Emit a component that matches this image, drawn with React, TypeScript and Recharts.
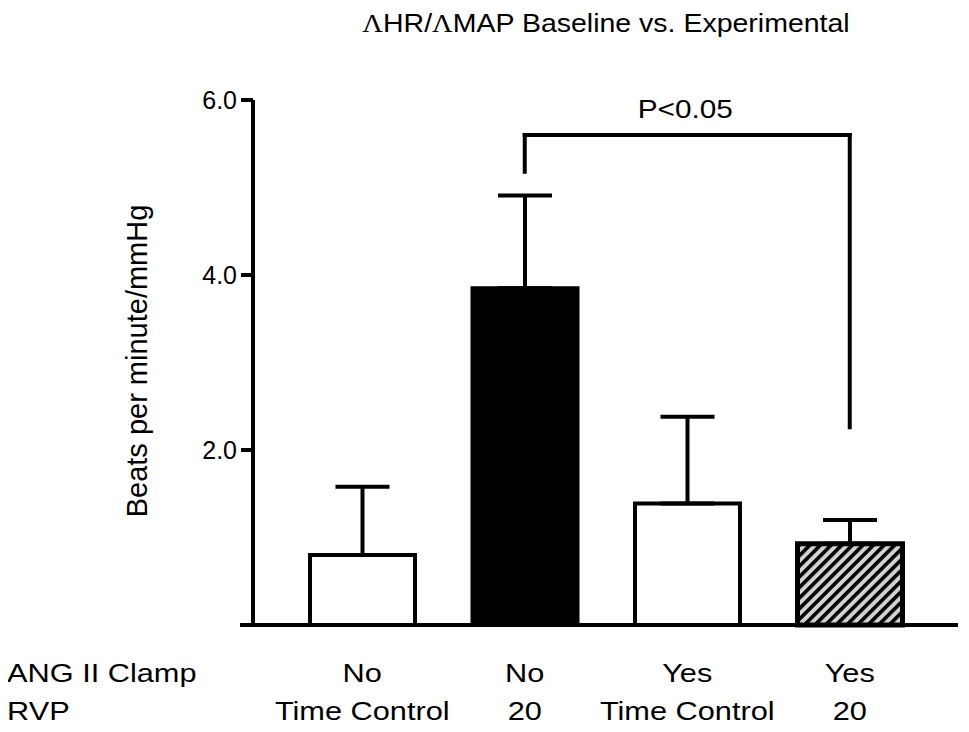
import React from "react";
import { ComposedChart, Bar, Cell, ErrorBar, XAxis, YAxis, ReferenceLine } from "recharts";

const groups = ["g1", "g2", "g3", "g4"];
const clampLabels = ["No", "No", "Yes", "Yes"];
const rvpLabels = ["Time Control", "20", "Time Control", "20"];
const means = [0.8, 3.85, 1.39, 0.93];
const sems = [0.78, 1.06, 0.99, 0.27];
const yTicks = [2, 4, 6];

// significance bracket between group 2 and group 4
const bracketTop = 5.6;
const bracketLeftEnd = 5.18;
const bracketRightEnd = 2.26;

const barFills = ["#ffffff", "#000000", "#ffffff", "url(#hatch)"];
const barStrokeWidths = [4, 4, 4, 5];

const data = groups.map((g, i) => ({ id: g, mean: means[i], err: [0, sems[i]] }));

const FONT = "'Liberation Sans', Arial, sans-serif";
const STRETCH = "scale(1.14,1)";
const LABEL_STRETCH = "scale(1.16,1)";

const CategoryTick = (props: any) => {
  const { x, y, payload } = props;
  const i = groups.indexOf(payload.value);
  return (
    <g transform={`translate(${x},${y})`}>
      <g transform={LABEL_STRETCH}>
        <text y={57} textAnchor="middle" fontSize={26.5} fontFamily={FONT} fill="#000">
          {clampLabels[i]}
        </text>
        <text y={95} textAnchor="middle" fontSize={26.5} fontFamily={FONT} fill="#000">
          {rvpLabels[i]}
        </text>
      </g>
    </g>
  );
};

const PLabel = (props: any) => {
  const vb = props.viewBox || {};
  const cx = (vb.x || 0) + (vb.width || 0) / 2;
  return (
    <text
      transform={`translate(${cx - 2},${(vb.y || 0) - 17}) scale(1.19,1)`}
      textAnchor="middle"
      fontSize={25}
      fontFamily={FONT}
      fill="#000"
    >
      P&lt;0.05
    </text>
  );
};

export default function App() {
  return (
    <div style={{ position: "relative", width: 961, height: 724 }}>
      <svg width={0} height={0} style={{ position: "absolute" }}>
        <defs>
          <pattern id="hatch" patternUnits="userSpaceOnUse" width={7.5} height={7.5} patternTransform="rotate(45)">
            <rect width={7.5} height={7.5} fill="#d2d2d2" />
            <rect width={3.6} height={7.5} fill="#000" />
          </pattern>
        </defs>
      </svg>

      <ComposedChart width={961} height={724} data={data} margin={{ top: 92, right: 11, bottom: 0, left: 0 }}>
        <XAxis
          dataKey="id"
          height={107}
          padding={{ left: 28, right: 27 }}
          interval={0}
          tickLine={false}
          tickSize={0}
          tickMargin={0}
          axisLine={{ stroke: "#000", strokeWidth: 4 }}
          tick={<CategoryTick />}
        />
        <YAxis
          width={245}
          domain={[0, 6]}
          ticks={yTicks}
          tickFormatter={(v: number) => v.toFixed(1)}
          tickSize={12}
          tickMargin={4}
          axisLine={{ stroke: "#000", strokeWidth: 4 }}
          tickLine={{ stroke: "#000", strokeWidth: 4 }}
          tick={{ fill: "#000", fontSize: 25, fontFamily: FONT }}
        />
        <Bar dataKey="mean" barSize={105} isAnimationActive={false}>
          {data.map((d, i) => (
            <Cell key={d.id} fill={barFills[i]} stroke="#000" strokeWidth={barStrokeWidths[i]} />
          ))}
          <ErrorBar dataKey="err" direction="y" width={27} stroke="#000" strokeWidth={4} isAnimationActive={false} />
        </Bar>
        <ReferenceLine
          segment={[{ x: "g2", y: bracketTop }, { x: "g4", y: bracketTop }]}
          stroke="#000"
          strokeWidth={4}
          strokeLinecap="square"
          ifOverflow="visible"
          label={<PLabel />}
        />
        <ReferenceLine
          segment={[{ x: "g2", y: bracketTop }, { x: "g2", y: bracketLeftEnd }]}
          stroke="#000"
          strokeWidth={4}
          strokeLinecap="square"
          ifOverflow="visible"
        />
        <ReferenceLine
          segment={[{ x: "g4", y: bracketTop }, { x: "g4", y: bracketRightEnd }]}
          stroke="#000"
          strokeWidth={4}
          strokeLinecap="square"
          ifOverflow="visible"
        />
      </ComposedChart>

      <svg
        width={961}
        height={724}
        style={{ position: "absolute", left: 0, top: 0, overflow: "visible", pointerEvents: "none" }}
      >
        <line x1={232} y1={617} x2={246} y2={617} stroke="#000" strokeWidth={4} />
        <text transform={`translate(598,24) ${STRETCH}`} textAnchor="middle" fontSize={25} fontFamily={FONT} fill="#000">
          <tspan fontFamily="'Liberation Serif', 'Times New Roman', serif">Λ</tspan>HR/
          <tspan fontFamily="'Liberation Serif', 'Times New Roman', serif">Λ</tspan>MAP Baseline vs. Experimental
        </text>
        <text transform="translate(139,353) rotate(-90)" textAnchor="middle" fontSize={29} fontFamily={FONT} fill="#000">
          Beats per minute/mmHg
        </text>
        <text transform={`translate(-1,674) ${LABEL_STRETCH}`} fontSize={26.5} fontFamily={FONT} fill="#000">
          ANG II Clamp
        </text>
        <text transform={`translate(-1,712) ${LABEL_STRETCH}`} fontSize={26.5} fontFamily={FONT} fill="#000">
          RVP
        </text>
      </svg>
    </div>
  );
}
